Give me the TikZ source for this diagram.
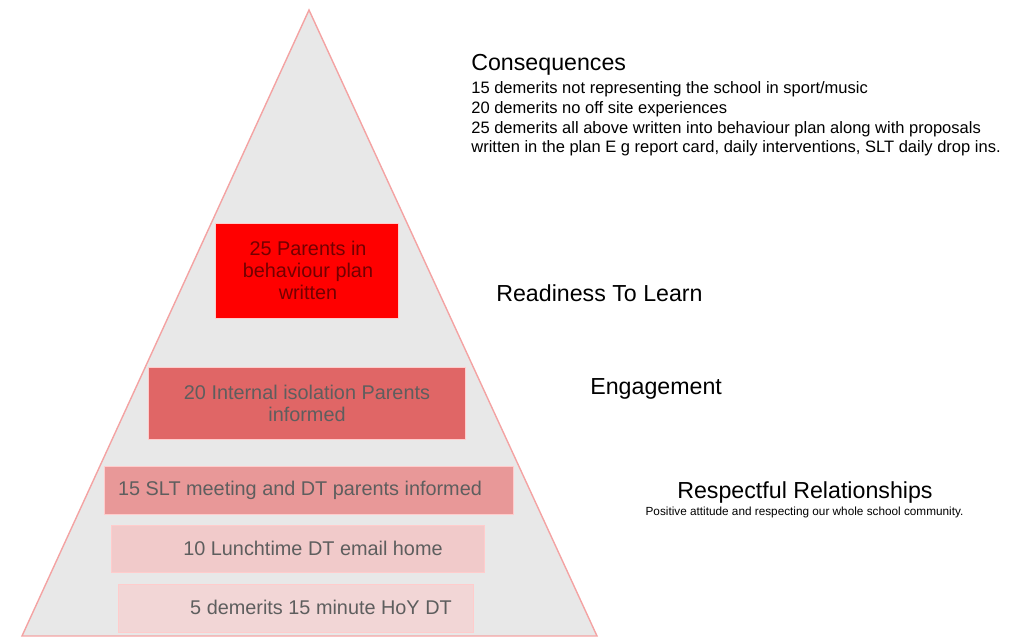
\documentclass[tikz,border=0pt]{standalone}
\usepackage{fontspec}
\setmainfont{Liberation Sans}
\usetikzlibrary{positioning}
\definecolor{pyrfill}{HTML}{E8E8E8}
\definecolor{pyrline}{HTML}{F4A3A3}
\definecolor{lvlfive}{HTML}{FF0000}
\definecolor{lvlfour}{HTML}{E06666}
\definecolor{lvlthree}{HTML}{E89898}
\definecolor{lvltwo}{HTML}{F1CACA}
\definecolor{lvlone}{HTML}{F2D6D6}
\definecolor{boxtext}{HTML}{5E5E5E}
\tikzstyle{level} = [draw=white!80!red,line width=0.4pt,inner sep=0,outer sep=0]
\tikzstyle{boxlabel} = [align=center,inner sep=0,text=boxtext,font=\fontsize{11.3}{12.5}\selectfont]
\tikzstyle{heading} = [anchor=west,inner sep=0,font=\fontsize{13.2}{15}\selectfont]

\begin{document}
\begin{tikzpicture}[x=0.02cm,y=-0.02cm]
    \useasboundingbox (0,0) rectangle (1015,638);
    \draw [fill=pyrfill,draw=pyrline,line width=0.8pt] (309,10) -- (597,636) -- (22,636) -- cycle;
    \node [level,fill=lvlfive,minimum width=3.66cm,minimum height=1.9cm] (b5) at (306.5,270.5) {};
    \node [level,fill=lvlfour,minimum width=6.34cm,minimum height=1.44cm] (b4) at (306.5,403) {};
    \node [level,fill=lvlthree,minimum width=8.18cm,minimum height=0.96cm] (b3) at (308.5,490) {};
    \node [level,fill=lvltwo,minimum width=7.46cm,minimum height=0.94cm] (b2) at (297.5,548.5) {};
    \node [level,fill=lvlone,minimum width=7.1cm,minimum height=0.96cm] (b1) at (295.5,608) {};
    \node [boxlabel,text=red!45!black] (t5) at (308,270) {25 Parents in\\behaviour plan\\written};
    \node [boxlabel] (t4) at (307,403) {20 Internal isolation Parents\\informed};
    \node [boxlabel] (t3) at (300,490) {15 SLT meeting and DT parents informed};
    \node [boxlabel] (t2) at (313,548) {10 Lunchtime DT email home};
    \node [boxlabel] (t1) at (321,607) {5 demerits 15 minute HoY DT};
    \node [heading] (cons) at (471,65) {Consequences};
    \node [anchor=north west,align=left,inner sep=0,font=\fontsize{9.4}{11.3}\selectfont] (consList) at (471,81)
        {15 demerits not representing the school in sport/music\\
         20 demerits no off site experiences\\
         25 demerits all above written into behaviour plan along with proposals\\
         written in the plan E g report card, daily interventions, SLT daily drop ins.};
    \node [heading] (ready) at (496,293) {Readiness To Learn};
    \node [heading] (engage) at (590,389) {Engagement};
    \node [heading] (respect) at (677,493) {Respectful Relationships};
    \node [inner sep=0,font=\fontsize{6.7}{7}\selectfont] (respectSub) at (804.5,512) {Positive attitude and respecting our whole school community.};
\end{tikzpicture}
\end{document}
